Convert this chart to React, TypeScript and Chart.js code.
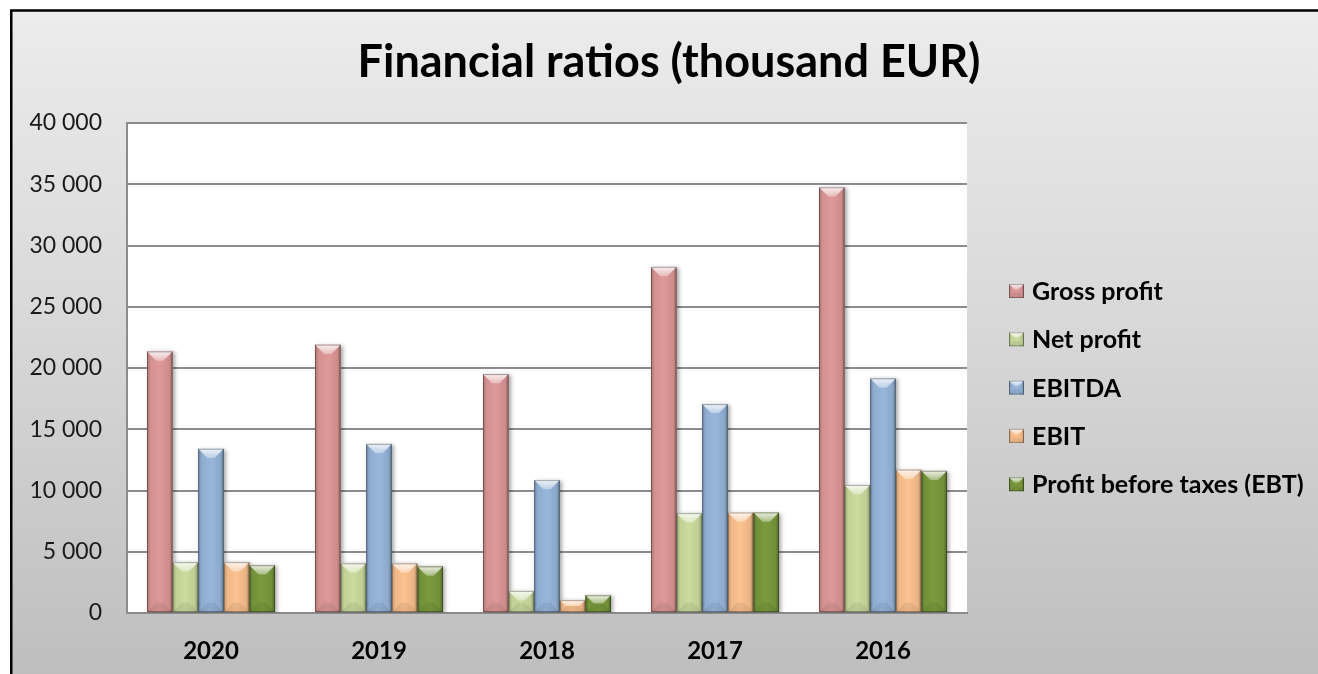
import React, { useEffect, useRef } from "react";
import { Chart, registerables } from "chart.js";

Chart.register(...registerables);

const categories = ["2020", "2019", "2018", "2017", "2016"];
const grossProfit = [21350, 21900, 19500, 28250, 34750];
const netProfit = [4150, 4050, 1800, 8150, 10450];
const ebitda = [13400, 13800, 10850, 17050, 19150];
const ebit = [4150, 4050, 1050, 8200, 11700];
const ebt = [3900, 3800, 1450, 8200, 11600];

const seriesNames = ["Gross profit", "Net profit", "EBITDA", "EBIT", "Profit before taxes (EBT)"];
const seriesColors = ["#DF9898", "#CBDC9F", "#97B6DB", "#FCC28F", "#7A9A3D"];
const yTicks = [0, 5000, 10000, 15000, 20000, 25000, 30000, 35000, 40000];
const titleText = "Financial ratios (thousand EUR)";

const FONT = 'Lato, "Open Sans", sans-serif';

const fmt = (v: number) => String(v).replace(/\B(?=(\d{3})+(?!\d))/g, " ");

function drawBevel(ctx: CanvasRenderingContext2D, L: number, T: number, R: number, B: number) {
  const w = R - L;
  const h = B - T;
  if (w <= 0 || h <= 0) return;
  const b = Math.min(w * 0.36, h / 2);
  const g = ctx.createLinearGradient(L, 0, R, 0);
  g.addColorStop(0, "rgba(0,0,0,0.25)");
  g.addColorStop(0.14, "rgba(0,0,0,0.05)");
  g.addColorStop(0.5, "rgba(0,0,0,0)");
  g.addColorStop(0.86, "rgba(0,0,0,0.07)");
  g.addColorStop(1, "rgba(0,0,0,0.32)");
  ctx.fillStyle = g;
  ctx.fillRect(L, T, w, h);
  const tg = ctx.createLinearGradient(0, T, 0, T + b);
  tg.addColorStop(0, "rgba(255,255,255,0.85)");
  tg.addColorStop(1, "rgba(255,255,255,0.35)");
  ctx.fillStyle = tg;
  ctx.beginPath();
  ctx.moveTo(L, T);
  ctx.lineTo(R, T);
  ctx.lineTo(R - b, T + b);
  ctx.lineTo(L + b, T + b);
  ctx.closePath();
  ctx.fill();
  ctx.fillStyle = "rgba(0,0,0,0.07)";
  ctx.beginPath();
  ctx.moveTo(L, B);
  ctx.lineTo(R, B);
  ctx.lineTo(R - b, B - b);
  ctx.lineTo(L + b, B - b);
  ctx.closePath();
  ctx.fill();
  ctx.strokeStyle = "rgba(0,0,0,0.3)";
  ctx.lineWidth = 1;
  ctx.strokeRect(L + 0.5, T + 0.5, w - 1, h - 1);
}

const decorPlugin = {
  id: "decor",
  beforeDraw(chart: any) {
    const { ctx, width, height, chartArea } = chart;
    ctx.save();
    ctx.fillStyle = "#ffffff";
    ctx.fillRect(0, 0, width, height);
    const bg = ctx.createLinearGradient(0, 10, 0, height);
    bg.addColorStop(0, "#ECECEC");
    bg.addColorStop(0.45, "#D9D9D9");
    bg.addColorStop(1, "#BEBEBE");
    ctx.fillStyle = bg;
    ctx.fillRect(11, 10, width + 100, height + 100);
    ctx.strokeStyle = "#000";
    ctx.lineWidth = 2.5;
    ctx.strokeRect(11.25, 10.5, 1500, 900);
    ctx.fillStyle = "#ffffff";
    ctx.fillRect(chartArea.left, chartArea.top, chartArea.right - chartArea.left, chartArea.bottom - chartArea.top);
    ctx.fillStyle = "#000";
    ctx.font = `bold 45px ${FONT}`;
    ctx.textAlign = "center";
    ctx.textBaseline = "alphabetic";
    ctx.fillText(titleText, 669, 77);
    ctx.restore();
  },
  beforeDatasetsDraw(chart: any) {
    const { ctx, chartArea } = chart;
    ctx.save();
    ctx.beginPath();
    ctx.rect(chartArea.left, chartArea.top, chartArea.right - chartArea.left, chartArea.bottom - chartArea.top);
    ctx.clip();
    ctx.shadowColor = "rgba(0,0,0,0.35)";
    ctx.shadowBlur = 4;
    ctx.shadowOffsetX = 2;
    ctx.shadowOffsetY = 1;
    chart.data.datasets.forEach((ds: any, i: number) => {
      const meta = chart.getDatasetMeta(i);
      meta.data.forEach((el: any) => {
        const { x, y, base, width } = el.getProps(["x", "y", "base", "width"], true);
        ctx.fillStyle = ds.backgroundColor;
        ctx.fillRect(x - width / 2, y, width, base - y);
      });
    });
    ctx.restore();
  },
  afterDatasetsDraw(chart: any) {
    const { ctx } = chart;
    ctx.save();
    chart.data.datasets.forEach((_ds: any, i: number) => {
      const meta = chart.getDatasetMeta(i);
      meta.data.forEach((el: any) => {
        const { x, y, base, width } = el.getProps(["x", "y", "base", "width"], true);
        drawBevel(ctx, x - width / 2, y, x + width / 2, base);
      });
    });
    ctx.restore();
  },
  afterDraw(chart: any) {
    const { ctx } = chart;
    ctx.save();
    ctx.font = `bold 25px ${FONT}`;
    ctx.textAlign = "left";
    ctx.textBaseline = "middle";
    chart.data.datasets.forEach((ds: any, i: number) => {
      const cy = 291 + i * 48.3;
      ctx.fillStyle = ds.backgroundColor;
      ctx.fillRect(1009, cy - 7, 15, 14);
      drawBevel(ctx, 1009, cy - 7, 1024, cy + 7);
      ctx.fillStyle = "#000";
      ctx.fillText(ds.label, 1032, cy + 1);
    });
    ctx.restore();
  },
};

export default function App() {
  const ref = useRef<HTMLCanvasElement | null>(null);
  useEffect(() => {
    document.body.style.margin = "0";
    if (!ref.current) return;
    const values = [grossProfit, netProfit, ebitda, ebit, ebt];
    const chart = new Chart(ref.current, {
      type: "bar",
      data: {
        labels: categories,
        datasets: values.map((d, i) => ({
          label: seriesNames[i],
          data: d,
          backgroundColor: seriesColors[i],
          borderWidth: 0,
          categoryPercentage: 0.762,
          barPercentage: 1.0,
        })),
      },
      options: {
        animation: false,
        responsive: false,
        devicePixelRatio: 1,
        layout: { padding: { left: 0, top: 123, right: 351, bottom: 0 } },
        plugins: {
          legend: { display: false },
          title: { display: false },
          tooltip: { enabled: false },
        },
        scales: {
          x: {
            grid: { display: false, drawTicks: false },
            border: { display: true, color: "#8C8C8C", width: 2 },
            ticks: { color: "#000", padding: 24, font: { family: FONT, size: 24, weight: "bold" } },
            afterFit: (s: any) => {
              s.height = 61;
            },
          },
          y: {
            min: 0,
            max: 40000,
            afterBuildTicks: (s: any) => {
              s.ticks = yTicks.map((v) => ({ value: v }));
            },
            ticks: {
              color: "#1a1a1a",
              padding: 25,
              font: { family: FONT, size: 23 },
              callback: (v: any) => fmt(Number(v)),
            },
            grid: { color: "#8C8C8C", lineWidth: 2, drawTicks: false },
            border: { display: true, color: "#8C8C8C", width: 2 },
            afterFit: (s: any) => {
              s.width = 127;
            },
          },
        },
      },
      plugins: [decorPlugin],
    } as any);
    return () => chart.destroy();
  }, []);
  return (
    <div style={{ width: 1318, height: 674 }}>
      <canvas ref={ref} width={1318} height={674} style={{ display: "block" }} />
    </div>
  );
}
